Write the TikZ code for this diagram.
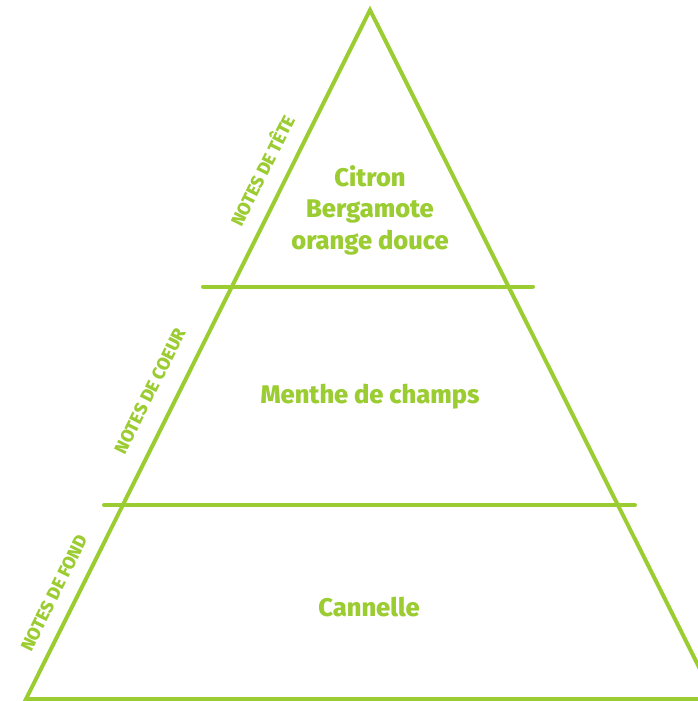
\documentclass[tikz,border=0pt]{standalone}
\usepackage{fontspec}
\setmainfont{Fira Sans}[BoldFont={Fira Sans ExtraBold}]
\definecolor{lime}{RGB}{155,204,50}
\begin{document}
\begin{tikzpicture}[x=1pt,y=-1pt,
  edge/.style={draw=lime,line width=4pt,line join=miter},
  bar/.style={draw=lime,line width=4pt,line cap=round},
  main/.style={text=lime,font=\bfseries\fontsize{25.5}{31.5}\selectfont,align=center},
  side/.style={text=lime,font=\bfseries\fontsize{18}{18}\selectfont,rotate=63.5}]
\useasboundingbox (0,0) rectangle (698,701);
\clip (0,0) rectangle (698,701);
\coordinate (apex) at (370,10);
\coordinate (bl) at (26,699);
\coordinate (br) at (715,699);
\draw[edge] (bl) -- (apex) -- (br) -- cycle;
\coordinate (a1) at (203,286.5);
\coordinate (b1) at (533,286.5);
\coordinate (a2) at (104,505);
\coordinate (b2) at (635,505);
\draw[bar] (a1) -- (b1);
\draw[bar] (a2) -- (b2);
\node[main] (tete) at (370,210) {Citron\\Bergamote\\orange douce};
\node[main] (coeur) at (370,397) {Menthe de champs};
\node[main] (fond) at (369,607) {Cannelle};
\node[side] (lt) at (261,170) {NOTES DE TÊTE};
\node[side] (lc) at (150,391) {NOTES DE COEUR};
\node[side] (lf) at (54,593) {NOTES DE FOND};
\end{tikzpicture}
\end{document}
